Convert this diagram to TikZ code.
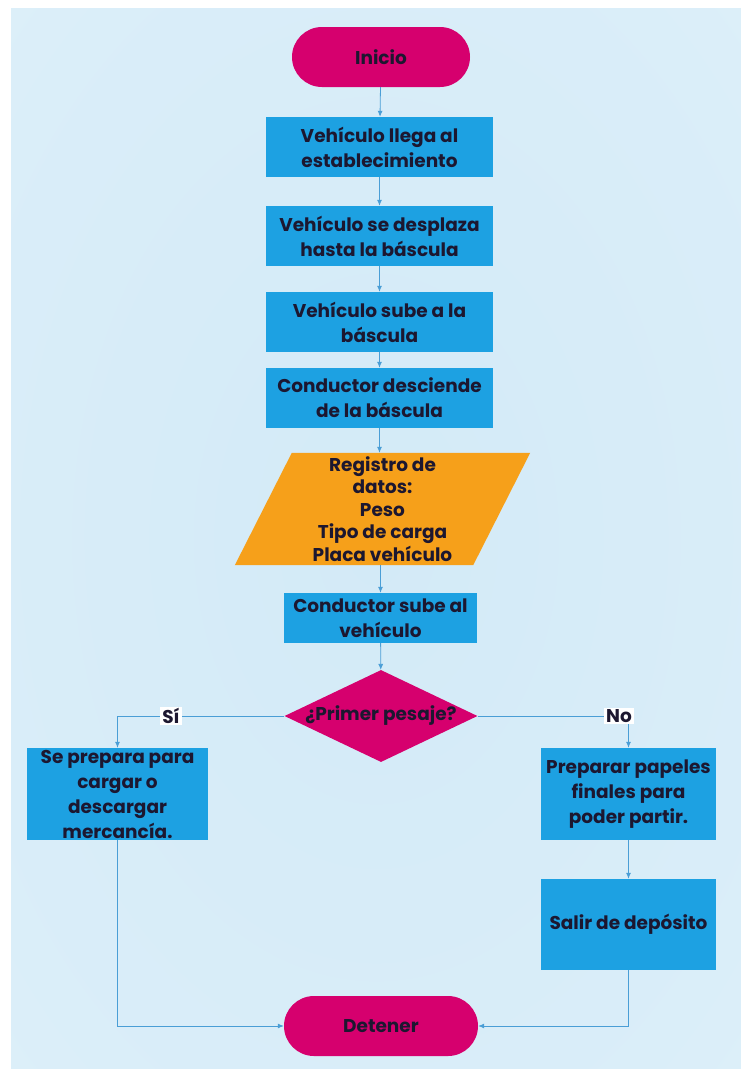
\documentclass[tikz,border=0pt]{standalone}
\usepackage{fontspec}
\setmainfont{Poppins}
\usetikzlibrary{shapes.geometric,shapes.misc,arrows.meta,backgrounds}

\definecolor{bgouter}{HTML}{E2F2FB}
\definecolor{bginner}{HTML}{D3EAF7}
\definecolor{termfill}{HTML}{D6006E}
\definecolor{procfill}{HTML}{1DA1E2}
\definecolor{iofill}{HTML}{F6A01A}
\definecolor{linkcol}{HTML}{4A9ED6}
\definecolor{inkcol}{HTML}{1C1730}

\pgfdeclareradialshading{bgglow}{\pgfpoint{0bp}{0bp}}{%
  color(0bp)=(bginner); color(30bp)=(bginner!55!bgouter); color(50bp)=(bgouter); color(100bp)=(bgouter)}

\tikzset{
  every node/.style={text=inkcol, font=\bfseries\fontsize{18.5}{25}\selectfont, align=center, inner sep=0pt},
  terminal/.style={rounded rectangle, fill=termfill, minimum width=#1, minimum height=60pt},
  procbox/.style 2 args={rectangle, fill=procfill, minimum width=#1, minimum height=#2},
  decision/.style={diamond, fill=termfill, minimum width=193pt, minimum height=92pt, aspect=2.1},
  flow/.style={draw=linkcol, line width=0.8pt, -{Latex[length=6pt,width=5pt]}},
  branchlabel/.style={fill=white, inner xsep=2pt, inner ysep=1pt}
}

\begin{document}
\begin{tikzpicture}[x=1pt, y=-1pt]
  % page and softly glowing backdrop, kept on the bottom layer
  \begin{scope}[on background layer]
    \fill[white] (0,0) rectangle (741,1069);
    \shade[shading=bgglow] (11,8) rectangle (741,1069);
  \end{scope}

  % main column
  \node[terminal=178pt] (start) at (381,57) {Inicio};
  \node[procbox={227pt}{60pt}] (arrive) at (379.5,147) {Vehículo llega al\\establecimiento};
  \node[procbox={227pt}{60pt}] (move) at (379.5,236) {Vehículo se desplaza\\hasta la báscula};
  \node[procbox={227pt}{60pt}] (climb) at (379.5,322) {Vehículo sube a la\\báscula};
  \node[procbox={227pt}{60pt}] (descend) at (379.5,398) {Conductor desciende\\de la báscula};

  % data input (parallelogram drawn behind the text node)
  \node[minimum width=295pt, minimum height=112pt,
        font=\bfseries\fontsize{18.5}{22.5}\selectfont] (record) at (382.5,509)
        {Registro de\\datos:\\Peso\\Tipo de carga\\Placa vehículo};
  \begin{scope}[on background layer]
    \fill[iofill] ([xshift=57pt]record.north west) -- (record.north east)
      -- ([xshift=-57pt]record.south east) -- (record.south west) -- cycle;
  \end{scope}

  \node[procbox={193pt}{50pt}] (board) at (380.5,618) {Conductor sube al\\vehículo};
  \node[decision] (first) at (381,716) {¿Primer pesaje?};

  % branches
  \node[procbox={181pt}{92pt}] (load) at (117.5,794) {Se prepara para\\cargar o\\descargar\\mercancía.};
  \node[procbox={175pt}{92pt}] (papers) at (628.5,794) {Preparar papeles\\finales para\\poder partir.};
  \node[procbox={175pt}{91pt}] (leave) at (628.5,924.5) {Salir de depósito};
  \node[terminal=194pt] (stop) at (381,1026) {Detener};

  % connectors
  \draw[flow] (start) -- (arrive);
  \draw[flow] (arrive) -- (move);
  \draw[flow] (move) -- (climb);
  \draw[flow] (climb) -- (descend);
  \draw[flow] (descend.south) -- (descend.south |- record.north);
  \draw[flow] (record.south -| board.north) -- (board.north);
  \draw[flow] (board) -- (first);
  \draw[flow] (first.west) -| (load.north);
  \draw[flow] (first.east) -| (papers.north);
  \draw[flow] (papers) -- (leave);
  \draw[flow] (load.south) |- (stop.west);
  \draw[flow] (leave.south) |- (stop.east);

  % branch labels
  \node[branchlabel] (yes) at (171,716) {Sí};
  \node[branchlabel] (no) at (619,716) {No};
\end{tikzpicture}
\end{document}
